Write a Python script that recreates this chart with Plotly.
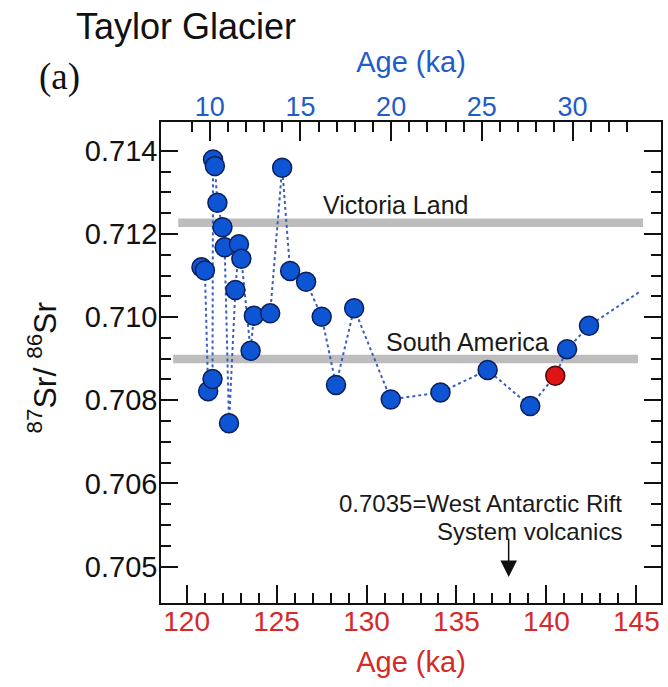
import plotly.graph_objects as go

# Taylor Glacier 87Sr/86Sr record, ages on the upper (blue) age axis, ka
age_ka = [9.54, 9.73, 9.91, 10.15, 10.18, 10.28, 10.42, 10.70, 10.82, 11.06,
          11.41, 11.61, 11.74, 12.25, 12.43, 13.33, 13.99, 14.43, 15.31, 16.17,
          16.96, 17.96, 19.98, 22.72, 25.32, 27.67, 29.70, 30.91]
sr_ratio = [0.71120, 0.71112, 0.70822, 0.70851, 0.71379, 0.71363, 0.71275, 0.71216,
            0.71168, 0.70745, 0.71065, 0.71175, 0.71140, 0.70919, 0.71003, 0.71009,
            0.71359, 0.71111, 0.71085, 0.71001, 0.70837, 0.71021, 0.70802, 0.70819,
            0.70873, 0.70786, 0.70923, 0.70979]

# sample drawn in red
red_age_ka = [29.05]
red_sr_ratio = [0.70859]

# end of the dotted trend line beyond the last sample
tail_age_ka = [33.71]
tail_sr_ratio = [0.71061]

# source-area compositions (grey bands)
source_names = ["Victoria Land", "South America"]
source_sr = [0.71227, 0.70899]

# axis ticks
bottom_ticks = [120, 125, 130, 135, 140, 145]
top_ticks = [10, 15, 20, 25, 30]
y_ticks = [0.704, 0.706, 0.708, 0.710, 0.712, 0.714]
y_ticklabels = ["0.705", "0.706", "0.708", "0.710", "0.712", "0.714"]

FONT = "Liberation Sans, Arial, sans-serif"
RED = "#d42a2a"
BLUE = "#1f5cc9"
INK = "#111111"
W, H = 668, 687
ML, MR, MT, MB = 161, 5, 122, 84
PW, PH = W - ML - MR, H - MT - MB


def px(xp, yp):
    """pixel position -> paper coordinates"""
    return (xp - ML) / PW, (H - MB - yp) / PH


# dotted line joins every sample in age order
line_pts = sorted(zip(age_ka + red_age_ka + tail_age_ka,
                      sr_ratio + red_sr_ratio + tail_sr_ratio))
line_x = [p[0] for p in line_pts]
line_y = [p[1] for p in line_pts]

fig = go.Figure()

# keeps the lower age axis attached to the plot
fig.add_trace(go.Scatter(x=[], y=[], xaxis="x", yaxis="y", showlegend=False,
                         hoverinfo="skip"))

fig.add_trace(go.Scatter(
    x=line_x, y=line_y, xaxis="x2", yaxis="y", mode="lines",
    line=dict(color="#3a5ec0", width=2, dash="dot"), showlegend=False,
    hoverinfo="skip"))

fig.add_trace(go.Scatter(
    x=age_ka, y=sr_ratio, xaxis="x2", yaxis="y", mode="markers",
    marker=dict(size=19, color="#0e55d4", line=dict(color="#0b1f5c", width=1.5)),
    showlegend=False))

fig.add_trace(go.Scatter(
    x=red_age_ka, y=red_sr_ratio, xaxis="x2", yaxis="y", mode="markers",
    marker=dict(size=19, color="#e01414", line=dict(color="#4a0a0a", width=1.5)),
    showlegend=False))

# grey source bands
band_extent = [(8.26, 33.89), (7.98, 33.61)]
for val, (x0, x1) in zip(source_sr, band_extent):
    fig.add_shape(type="line", xref="x2", yref="y", x0=x0, x1=x1, y0=val, y1=val,
                  line=dict(color="#bdbdbd", width=8.5), layer="below")

label_pos = [(16.15, 0.71270), (19.61, 0.70939)]
for name, (lx, ly) in zip(source_names, label_pos):
    fig.add_annotation(xref="x2", yref="y", x=lx, y=ly, text=name, showarrow=False,
                       xanchor="left", yanchor="middle",
                       font=dict(family=FONT, size=25, color="#1a1a1a"))

# volcanic source note with arrow
for txt, yp in [("0.7035=West Antarctic Rift", 504), ("System volcanics", 531)]:
    nx, ny = px(626, yp)
    fig.add_annotation(xref="paper", yref="paper", x=nx, y=ny, text=txt,
                       showarrow=False, xanchor="right", yanchor="middle",
                       font=dict(family=FONT, size=24, color="#1a1a1a"))
fig.add_annotation(xref="x", yref="y", x=137.9, y=0.70375, text="", showarrow=True,
                   ax=0, ay=-40, arrowhead=2, arrowsize=2.2, arrowwidth=1.5,
                   arrowcolor=INK)

# titles
tx, ty = px(74, 26)
fig.add_annotation(xref="paper", yref="paper", x=tx, y=ty, text="Taylor Glacier",
                   showarrow=False, xanchor="left", yanchor="middle",
                   font=dict(family=FONT, size=36, color=INK))
lx, ly = px(59, 77)
fig.add_annotation(xref="paper", yref="paper", x=lx, y=ly, text="(a)",
                   showarrow=False, xanchor="center", yanchor="middle",
                   font=dict(family="Liberation Serif, Times New Roman, serif",
                             size=37, color=INK))
yx, yy = px(42, 367)
fig.add_annotation(xref="paper", yref="paper", x=yx, y=yy,
                   text="<sup>87</sup>Sr/ <sup>86</sup>Sr", textangle=-90,
                   showarrow=False, xanchor="center", yanchor="middle",
                   font=dict(family=FONT, size=32, color=INK))

minor_bottom = [v for v in range(120, 146) if v not in bottom_ticks]
minor_top = [v for v in range(9, 34) if v not in top_ticks]
minor_y = [round(0.704 + 0.0005 * i, 4) for i in range(21)]
minor_y = [v for v in minor_y if all(abs(v - t) > 1e-6 for t in y_ticks)]

axis_common = dict(showgrid=False, zeroline=False, showline=True,
                   linecolor=INK, linewidth=1.5, ticks="inside",
                   tickcolor=INK, tickwidth=1.5)

fig.update_layout(
    width=W, height=H,
    margin=dict(l=ML, r=MR, t=MT, b=MB, pad=0),
    paper_bgcolor="white", plot_bgcolor="white",
    showlegend=False,
    xaxis=dict(**axis_common, range=[118.577, 146.367], tickmode="array",
               tickvals=bottom_ticks, ticklen=18, ticklabelstandoff=-7,
               minor=dict(tickmode="array", tickvals=minor_bottom, ticklen=10,
                          ticks="inside", tickcolor=INK, tickwidth=1.5),
               tickfont=dict(family=FONT, size=28, color=RED),
               title=dict(text="Age (ka)", font=dict(family=FONT, size=29, color=RED),
                          standoff=15)),
    xaxis2=dict(**axis_common, overlaying="x", side="top", anchor="y",
                range=[7.31, 34.88], tickmode="array", tickvals=top_ticks, ticklen=19,
                ticklabelstandoff=-7,
                minor=dict(tickmode="array", tickvals=minor_top, ticklen=10,
                           ticks="inside", tickcolor=INK, tickwidth=1.5),
                tickfont=dict(family=FONT, size=27, color=BLUE),
                title=dict(text="Age (ka)", font=dict(family=FONT, size=29, color=BLUE),
                           standoff=11)),
    yaxis=dict(**axis_common, mirror="ticks", range=[0.703127, 0.71469],
               tickmode="array", tickvals=y_ticks, ticktext=y_ticklabels, ticklen=17,
               ticklabelstandoff=-4,
               minor=dict(tickmode="array", tickvals=minor_y, ticklen=10,
                          ticks="inside", tickcolor=INK, tickwidth=1.5),
               tickfont=dict(family=FONT, size=29, color=INK)),
)

fig.write_html("out.html")
